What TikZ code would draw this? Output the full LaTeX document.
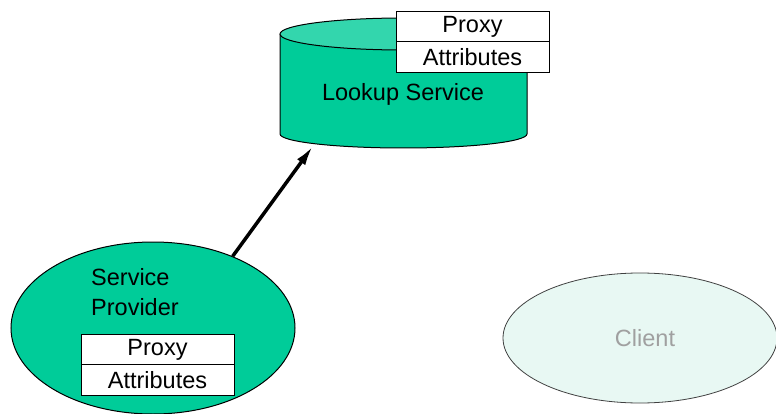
\documentclass[tikz,border=0pt]{standalone}
\usepackage{fontspec}
\setmainfont{Liberation Sans}
\usetikzlibrary{shapes.geometric,arrows.meta}
\definecolor{jgreen}{RGB}{0,204,153}
\definecolor{jtop}{RGB}{51,214,173}
\definecolor{cfill}{RGB}{232,248,243}
\definecolor{cline}{RGB}{64,64,64}
\definecolor{ctext}{RGB}{160,160,160}
\tikzset{
  lbl/.style={font=\fontsize{23.5}{27}\selectfont, inner sep=0pt},
  wbox/.style={draw=black, fill=white, line width=1pt, minimum width=153pt, minimum height=30.5pt, inner sep=0pt, font=\fontsize{23.5}{27}\selectfont},
  outl/.style={draw=black, line width=1pt},
}
\begin{document}
\begin{tikzpicture}[x=1pt,y=-1pt]
\useasboundingbox (0,0) rectangle (776,414);
% Lookup service cylinder
\fill[jgreen] (280,34) -- (280,134) arc[start angle=180, end angle=360, x radius=123.5pt, y radius=14pt] -- (527,34) -- cycle;
\draw[outl] (280,34) -- (280,134) arc[start angle=180, end angle=360, x radius=123.5pt, y radius=14pt] -- (527,34);
\draw[outl, fill=jtop] (403.5,34) ellipse[x radius=123.5pt, y radius=16pt];
\node[lbl] (lstext) at (403,94) {Lookup Service};
\coordinate (lstip) at (313,146);
\node[wbox] (lsproxy) at (472.5,26.5) {Proxy};
\node[wbox] (lsattr) at (472.5,57) {Attributes};
% Service provider
\node[ellipse, outl, fill=jgreen, minimum width=284pt, minimum height=172pt, inner sep=0pt] (sp) at (153,328) {};
\node[lbl, align=left, anchor=west] (sptext) at (91,292) {Service\\[3pt]Provider};
\node[wbox] (spproxy) at (157.5,349.5) {Proxy};
\node[wbox] (spattr) at (157.5,380) {Attributes};
% Client
\node[ellipse, draw=cline, line width=0.8pt, fill=cfill, minimum width=274pt, minimum height=130pt, inner sep=0pt] (client) at (640,338) {};
\node[lbl, text=ctext] (clienttext) at (645,338) {Client};
% Arrow
\draw[line width=3.5pt, -{Latex[length=20pt,width=10pt]}] (sp.42) -- (lstip);
\end{tikzpicture}
\end{document}
